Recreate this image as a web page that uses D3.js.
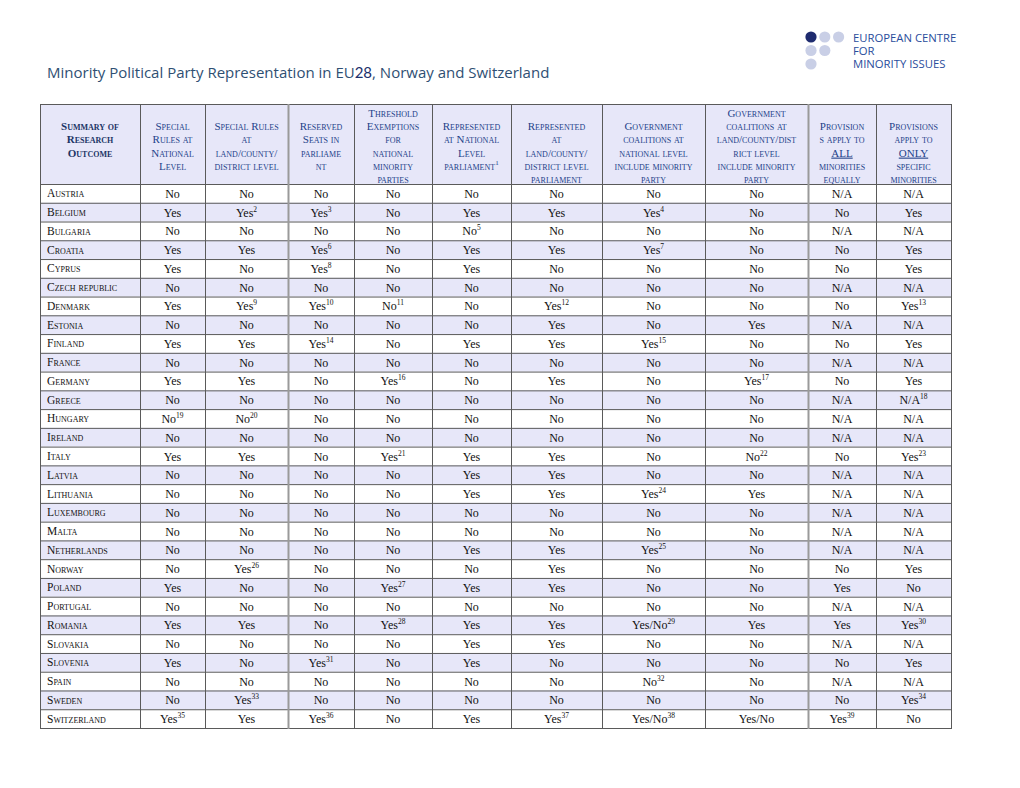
<!DOCTYPE html>
<html><head><meta charset="utf-8">
<script src="https://cdn.jsdelivr.net/npm/d3@7"></script>
<style>
html,body{margin:0;padding:0;background:#fff;}
svg{display:block;}
</style></head>
<body>
<svg id="c" width="1020" height="788"></svg>
<script>
// ---------- DATA ----------
const countries = ["Austria","Belgium","Bulgaria","Croatia","Cyprus","Czech republic","Denmark","Estonia","Finland","France","Germany","Greece","Hungary","Ireland","Italy","Latvia","Lithuania","Luxembourg","Malta","Netherlands","Norway","Poland","Portugal","Romania","Slovakia","Slovenia","Spain","Sweden","Switzerland"];

const headerLines = [
  ["Summary of","Research","Outcome"],
  ["Special","Rules at","National","Level"],
  ["Special Rules","at","land/county/","district level"],
  ["Reserved","Seats in","parliame","nt"],
  ["Threshold","Exemptions","for","national","minority","parties"],
  ["Represented","at National","Level","parliament^1"],
  ["Represented","at","land/county/","district level","parliament"],
  ["Government","coalitions at","national level","include minority","party"],
  ["Government","coalitions at","land/county/dist","rict level","include minority","party"],
  ["Provision","s apply to","_ALL","minorities","equally"],
  ["Provisions","apply to","_ONLY","specific","minorities"]
];

const specialNational = ["No","Yes","No","Yes","Yes","No","Yes","No","Yes","No","Yes","No","No^19","No","Yes","No","No","No","No","No","No","Yes","No","Yes","No","Yes","No","No","Yes^35"];
const specialDistrict = ["No","Yes^2","No","Yes","No","No","Yes^9","No","Yes","No","Yes","No","No^20","No","Yes","No","No","No","No","No","Yes^26","No","No","Yes","No","No","No","Yes^33","Yes"];
const reservedSeats   = ["No","Yes^3","No","Yes^6","Yes^8","No","Yes^10","No","Yes^14","No","No","No","No","No","No","No","No","No","No","No","No","No","No","No","No","Yes^31","No","No","Yes^36"];
const thresholdExempt = ["No","No","No","No","No","No","No^11","No","No","No","Yes^16","No","No","No","Yes^21","No","No","No","No","No","No","Yes^27","No","Yes^28","No","No","No","No","No"];
const reprNational    = ["No","Yes","No^5","Yes","Yes","No","No","No","Yes","No","No","No","No","No","Yes","Yes","Yes","No","No","Yes","No","Yes","No","Yes","Yes","Yes","No","No","Yes"];
const reprDistrict    = ["No","Yes","No","Yes","No","No","Yes^12","Yes","Yes","No","Yes","No","No","No","Yes","Yes","Yes","No","No","Yes","Yes","Yes","No","Yes","Yes","No","No","No","Yes^37"];
const govNational     = ["No","Yes^4","No","Yes^7","No","No","No","No","Yes^15","No","No","No","No","No","No","No","Yes^24","No","No","Yes^25","No","No","No","Yes/No^29","No","No","No^32","No","Yes/No^38"];
const govDistrict     = ["No","No","No","No","No","No","No","Yes","No","No","Yes^17","No","No","No","No^22","No","Yes","No","No","No","No","No","No","Yes","No","No","No","No","Yes/No"];
const applyAll        = ["N/A","No","N/A","No","No","N/A","No","N/A","No","N/A","No","N/A","N/A","N/A","No","N/A","N/A","N/A","N/A","N/A","No","Yes","N/A","Yes","N/A","No","N/A","No","Yes^39"];
const applyOnly       = ["N/A","Yes","N/A","Yes","Yes","N/A","Yes^13","N/A","Yes","N/A","Yes","N/A^18","N/A","N/A","Yes^23","N/A","N/A","N/A","N/A","N/A","Yes","No","N/A","Yes^30","N/A","Yes","N/A","Yes^34","No"];

const valueColumns = [specialNational, specialDistrict, reservedSeats, thresholdExempt, reprNational, reprDistrict, govNational, govDistrict, applyAll, applyOnly];

// ---------- LAYOUT ----------
const colEdges = [40,140,205,288,354,432,511,602,705,808,876,951];
const tableTop = 104, headerBottom = 184, tableBottom = 728;
const shade = "#e7e7f9";
const serif = "'Liberation Serif','Times New Roman',serif";

const svg = d3.select("#c");

// Title
const title = svg.append("text").attr("x",47).attr("y",78)
  .attr("font-family","'Open Sans',sans-serif").attr("font-size",15)
  .attr("fill","#2f4f73");
title.append("tspan").text("Minority Political Party Representation in EU");
title.append("tspan").attr("fill","#1b2f6b").attr("font-family","Lato,sans-serif").text("28");
title.append("tspan").text(", Norway and Switzerland");

// Logo
const dots = [[0,0,true],[1,0,false],[2,0,false],[0,1,false],[1,1,false],[0,2,false]];
svg.append("g").selectAll("circle").data(dots).join("circle")
  .attr("cx",d=>811+d[0]*13.8).attr("cy",d=>37+d[1]*13.5).attr("r",5.6)
  .attr("fill",d=>d[2]?"#1e2b6e":"#c9cfe6");
svg.append("g").selectAll("text").data(["EUROPEAN CENTRE","FOR","MINORITY ISSUES"]).join("text")
  .attr("x",853).attr("y",(d,i)=>41.5+i*13.3)
  .attr("font-family","'Open Sans',sans-serif").attr("font-size",11.3)
  .attr("fill","#2a4c9c").text(d=>d);

// Scales
const y = d3.scaleBand().domain(countries).range([headerBottom, tableBottom]);
const colX = d3.scaleOrdinal().domain(d3.range(11)).range(colEdges.slice(0,11));
const colW = i => colEdges[i+1]-colEdges[i];

// Backgrounds
svg.append("rect").attr("x",40).attr("y",tableTop).attr("width",911).attr("height",headerBottom-tableTop).attr("fill",shade);
svg.append("g").selectAll("rect").data(countries.filter((c,i)=>i%2===1)).join("rect")
  .attr("x",40).attr("y",d=>y(d)).attr("width",911).attr("height",y.bandwidth()).attr("fill",shade);

// Header text
function addRich(sel, str){
  let underline=false;
  if(str.startsWith("_")){underline=true;str=str.slice(1);}
  const parts = str.split("^");
  const t = sel.append("tspan").text(parts[0]);
  if(underline) t.attr("text-decoration","underline");
  if(parts[1]){
    sel.append("tspan").attr("font-size",7).attr("dy",-5).attr("font-variant","normal").text(parts[1]);
  }
}
headerLines.forEach((lines,ci)=>{
  const n = lines.length;
  const start = 130 - Math.max(0,n-5)*13.3;
  lines.forEach((ln,li)=>{
    const t = svg.append("text")
      .attr("x", colX(ci)+colW(ci)/2).attr("y", start+li*13.3)
      .attr("text-anchor","middle")
      .attr("font-family",serif).attr("font-size",11)
      .style("font-variant","small-caps")
      .attr("font-weight", ci===0?"bold":"normal")
      .attr("fill", ci===0?"#1c3566":"#24428a");
    addRich(t, ln);
  });
});

// Country labels
svg.append("g").selectAll("text").data(countries).join("text")
  .attr("x",47).attr("y",d=>y(d)+y.bandwidth()/2+4)
  .attr("font-family",serif).attr("font-size",11.5)
  .style("font-variant","small-caps").attr("fill","#111").text(d=>d);

// Values
valueColumns.forEach((col,k)=>{
  const ci = k+1;
  svg.append("g").selectAll("text").data(col).join("text")
    .attr("x", colX(ci)+colW(ci)/2)
    .attr("y",(d,i)=>y(countries[i])+y.bandwidth()/2+4.5)
    .attr("text-anchor","middle")
    .attr("font-family",serif).attr("font-size",12).attr("fill","#111")
    .each(function(d){
      const parts=d.split("^");
      const s=d3.select(this);
      s.append("tspan").text(parts[0]);
      if(parts[1]) s.append("tspan").attr("font-size",7.5).attr("dy",-5).text(parts[1]);
    });
});

// Grid lines
const grid = svg.append("g");
const hLines = [tableTop, headerBottom].concat(countries.map(c=>y(c)+y.bandwidth()));
grid.selectAll("line.h").data(hLines).join("line").attr("class","h")
  .attr("x1",40).attr("x2",951).attr("y1",d=>d+0.5).attr("y2",d=>d+0.5)
  .attr("stroke","#5a5a5a").attr("stroke-width",1);
grid.selectAll("line.v").data(colEdges).join("line").attr("class","v")
  .attr("x1",d=>d+0.5).attr("x2",d=>d+0.5).attr("y1",tableTop).attr("y2",tableBottom+1)
  .attr("stroke",(d,i)=>(i===3||i===9)?"#9a9a9a":"#5a5a5a")
  .attr("stroke-width",(d,i)=>(i===3||i===9)?2:1);
</script>
</body></html>
